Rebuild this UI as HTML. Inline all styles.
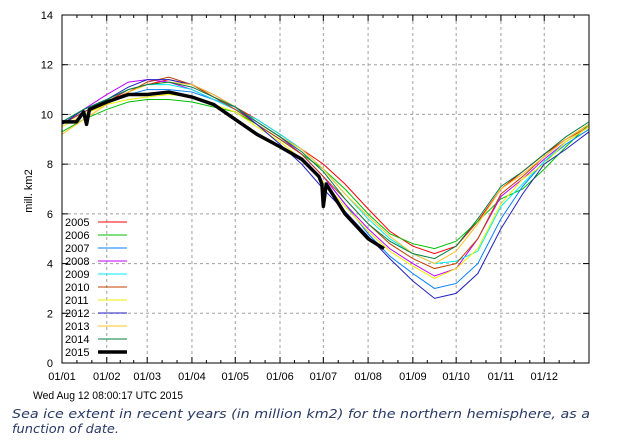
<!DOCTYPE html>
<html><head><meta charset="utf-8"><style>
body{margin:0;background:#fff;}
svg{display:block;font-family:"Liberation Sans",sans-serif;}
</style></head><body>
<svg id="c" width="617" height="440">
<g id="grid"></g>
<g id="series"></g>
<g id="axes"></g>
<g id="legend"></g>
<text x="32" y="191" font-size="11" transform="rotate(-90 32 191)" text-anchor="middle">mill. km2</text>
<text x="33" y="399" font-size="11" textLength="150" lengthAdjust="spacingAndGlyphs">Wed Aug 12 08:00:17 UTC 2015</text>
<text x="12" y="418" font-size="12" font-style="italic" fill="#2a3a66" style="font-family:'DejaVu Sans',sans-serif" textLength="578" lengthAdjust="spacingAndGlyphs">Sea ice extent in recent years (in million km2) for the northern hemisphere, as a</text>
<text x="12" y="433" font-size="12" font-style="italic" fill="#2a3a66" style="font-family:'DejaVu Sans',sans-serif" textLength="107" lengthAdjust="spacingAndGlyphs">function of date.</text>
</svg>
<script>
const monthLabels=["01/01","01/02","01/03","01/04","01/05","01/06","01/07","01/08","01/09","01/10","01/11","01/12"];
const monthDays=[0,31,59,90,120,151,181,212,243,273,304,334];
const yTicks=[0,2,4,6,8,10,12,14];
const days=[0,15,31,46,59,74,90,105,120,135,151,166,181,196,212,227,243,258,273,288,304,319,334,349,365];
const years=["2005","2006","2007","2008","2009","2010","2011","2012","2013","2014"];
const colors=["#ff0000","#00c000","#0080ff","#c000ff","#00eeee","#c04000","#eeee00","#2020c0","#ffc020","#008040"];
const v2005=[9.6,10.1,10.5,11.0,11.2,11.4,11.2,10.7,10.3,9.8,9.2,8.6,8.0,7.2,6.2,5.3,4.7,4.4,4.7,5.7,7.0,7.7,8.4,9.0,9.6];
const v2006=[9.3,9.8,10.2,10.5,10.6,10.6,10.5,10.3,10.1,9.6,9.0,8.4,7.8,7.0,6.0,5.2,4.8,4.6,4.9,5.7,6.6,7.0,7.8,8.7,9.6];
const v2007=[9.6,10.1,10.5,10.8,11.0,11.0,10.9,10.6,10.3,9.7,9.1,8.4,7.5,6.4,5.2,4.3,3.6,3.0,3.2,4.0,5.8,7.1,8.1,8.8,9.4];
const v2008=[9.6,10.2,10.8,11.3,11.4,11.3,11.0,10.6,10.2,9.7,9.1,8.4,7.5,6.4,5.4,4.6,4.0,3.5,3.8,5.0,6.7,7.4,8.2,8.9,9.5];
const v2009=[9.7,10.2,10.6,11.0,11.2,11.2,11.0,10.6,10.2,9.8,9.2,8.6,7.8,6.8,5.8,5.0,4.4,4.0,4.1,4.5,6.3,7.2,8.1,8.9,9.5];
const v2010=[9.6,10.1,10.5,10.9,11.3,11.5,11.2,10.7,10.2,9.6,9.0,8.4,7.5,6.6,5.6,4.8,4.2,3.8,4.0,5.0,6.8,7.5,8.3,9.0,9.5];
const v2011=[9.5,10.0,10.4,10.6,10.7,10.8,10.7,10.4,10.1,9.5,8.9,8.2,7.3,6.3,5.3,4.5,3.9,3.4,3.8,4.6,6.4,7.4,8.0,8.9,9.5];
const v2012=[9.6,10.2,10.6,11.1,11.4,11.4,11.2,10.8,10.3,9.6,8.8,8.0,7.0,6.1,5.1,4.2,3.3,2.6,2.8,3.6,5.4,6.8,8.0,8.6,9.3];
const v2013=[9.2,9.8,10.4,10.9,11.2,11.3,11.2,10.8,10.3,9.7,9.1,8.6,7.8,6.8,5.9,5.1,4.4,4.0,4.5,5.6,7.0,7.6,8.3,9.0,9.6];
const v2014=[9.7,10.2,10.6,11.0,11.2,11.3,11.1,10.7,10.3,9.7,9.1,8.5,7.7,6.6,5.6,4.9,4.4,4.2,4.7,5.8,7.1,7.7,8.4,9.1,9.7];
const days2015=[0,10,15,17,19,31,46,59,74,90,105,120,135,151,166,178,180,181,183,196,212,223];
const v2015=[9.7,9.7,10.1,9.6,10.2,10.5,10.8,10.8,10.9,10.7,10.4,9.8,9.2,8.7,8.2,7.5,7.2,6.3,7.2,6.0,5.0,4.6];
const allV=[v2005,v2006,v2007,v2008,v2009,v2010,v2011,v2012,v2013,v2014];

const L=62,R=589,T=15,B=363;
const X=d=>L+(R-L)*d/365;
const Y=v=>B-(B-T)*v/14;
const NS="http://www.w3.org/2000/svg";
function mk(tag,parent,attrs){const e=document.createElementNS(NS,tag);for(const k in attrs)e.setAttribute(k,attrs[k]);parent.appendChild(e);return e;}
const grid=document.getElementById('grid'),axes=document.getElementById('axes'),ser=document.getElementById('series'),leg=document.getElementById('legend');

yTicks.forEach(v=>{
  if(v>0&&v<14){const g=mk('line',grid,{x1:L,x2:R,y1:Y(v),y2:Y(v),stroke:'#a0a0a0','stroke-dasharray':'3,3'});
  
  }
  mk('line',axes,{x1:L,x2:L+6,y1:Y(v),y2:Y(v),stroke:'#000'});
  mk('line',axes,{x1:R-6,x2:R,y1:Y(v),y2:Y(v),stroke:'#000'});
  const t=mk('text',axes,{x:L-9,y:Y(v)+4,'font-size':11,'text-anchor':'end'});t.textContent=v;
  
  
});
monthDays.forEach((d,i)=>{
  if(i>0){const g=mk('line',grid,{x1:X(d),x2:X(d),y1:T,y2:B,stroke:'#a0a0a0','stroke-dasharray':'3,3'});
  
  }
  mk('line',axes,{x1:X(d),x2:X(d),y1:B,y2:B-6,stroke:'#000'});
  mk('line',axes,{x1:X(d),x2:X(d),y1:T,y2:T+6,stroke:'#000'});
  const nd=i<11?monthDays[i+1]:365;
  for(let k=1;k<3;k++){const m=d+(nd-d)*k/3;
    mk('line',axes,{x1:X(m),x2:X(m),y1:B,y2:B-3,stroke:'#000'});
    mk('line',axes,{x1:X(m),x2:X(m),y1:T,y2:T+3,stroke:'#000'});}
  const t=mk('text',axes,{x:X(d),y:B+17,'font-size':11,'text-anchor':'middle'});t.textContent=monthLabels[i];
  
  
});
const frame=mk('rect',axes,{x:L,y:T,width:R-L,height:B-T,fill:'none',stroke:'#000','stroke-width':1});



allV.forEach((vals,i)=>{
  const p=mk('polyline',ser,{points:vals.map((v,j)=>X(days[j])+','+Y(v)).join(' '),fill:'none',stroke:colors[i],'stroke-width':1});
  
  
});
const p15=mk('polyline',ser,{points:v2015.map((v,j)=>X(days2015[j])+','+Y(v)).join(' '),fill:'none',stroke:'#000','stroke-width':3.5,'stroke-linejoin':'round'});



const legYears=years.concat(["2015"]);const legCols=colors.concat(["#000"]);
legYears.forEach((yr,i)=>{
  const y=222+i*13;
  const t=mk('text',leg,{x:65,y:y+4,'font-size':11});t.textContent=yr;
  
  
  const l=mk('line',leg,{x1:98,x2:127,y1:y,y2:y,stroke:legCols[i],'stroke-width':i==10?3.5:1});
  
  
});
</script>
</body></html>
